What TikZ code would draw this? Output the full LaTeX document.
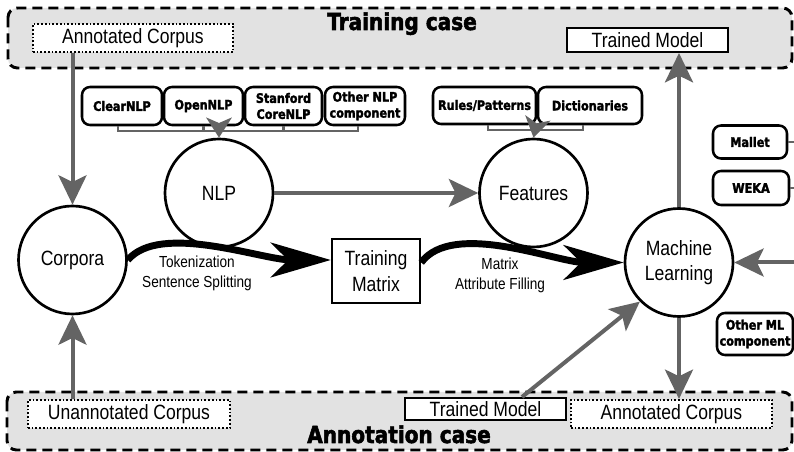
\documentclass[tikz,border=0pt]{standalone}
\usepackage{fontspec}
\setmainfont{Liberation Sans}[FakeStretch=0.85]
\newfontfamily\heavyfont{DejaVu Sans Bold}[FakeStretch=0.86, FakeBold=2.2]
\usetikzlibrary{arrows.meta,calc}

\definecolor{linkgray}{HTML}{646464}
\definecolor{panelgray}{HTML}{E2E2E2}

\tikzset{
  panel/.style={draw=black, fill=panelgray, line width=2.2pt,
    dash pattern=on 7.5pt off 4.5pt, rounded corners=7pt},
  casetitle/.style={font=\heavyfont\fontsize{17.5}{20}\selectfont, inner sep=0pt, anchor=base},
  biglabel/.style={font=\fontsize{15.5}{19}\selectfont},
  datafile/.style={biglabel, draw=black, fill=white, line width=1.6pt,
    dash pattern=on 1.3pt off 1.5pt, inner sep=0pt},
  modelfile/.style={biglabel, draw=black, fill=white, line width=1.5pt, inner sep=0pt},
  stage/.style={biglabel, circle, draw=black, fill=white, line width=2pt,
    minimum size=81pt, inner sep=0pt, align=center},
  matrixbox/.style={biglabel, draw=black, fill=white, line width=1.8pt,
    inner sep=0pt, align=center, minimum width=66pt, minimum height=48pt},
  tool/.style={draw=black, fill=white, rounded corners=6pt, line width=1.9pt,
    align=center, inner sep=0pt,
    font=\heavyfont\fontsize{9.8}{12}\selectfont},
  feed/.style={draw=linkgray, line width=3pt,
    -{Stealth[length=22pt,width=21pt,inset=5pt]}},
  shortfeed/.style={draw=linkgray, line width=3pt,
    -{Stealth[length=15pt,width=19pt,inset=4pt]}},
  flow/.style={draw=black, line width=5.2pt,
    -{Stealth[length=45pt,width=26pt,inset=13pt]}},
  tie/.style={draw=linkgray, line width=1.6pt},
  steplabel/.style={font=\fontsize{12}{15}\selectfont, align=center},
}

\begin{document}
\begin{tikzpicture}[x=0.75pt, y=-0.75pt]
\fill[white] (0,0) rectangle (794,452);
\useasboundingbox (0,0) rectangle (794,452);

% the two case panels
\draw[panel] (8,8) rectangle (792,68);
\draw[panel] (7,392) rectangle (792,450);
\node[casetitle] (traintitle) at (402,30) {Training case};
\node[casetitle] (annottitle) at (399,443) {Annotation case};

% corpus and model files
\node[datafile, minimum width=150pt, minimum height=21pt] (anncorpTop) at (133,38) {Annotated Corpus};
\node[modelfile, minimum width=120.75pt, minimum height=18pt] (trainedTop) at (647.5,40) {Trained Model};
\node[datafile, minimum width=151.5pt, minimum height=21pt] (unannot) at (129,414) {Unannotated Corpus};
\node[modelfile, minimum width=120.75pt, minimum height=16.5pt] (trainedBot) at (485.5,409) {Trained Model};
\node[datafile, minimum width=150.75pt, minimum height=21pt] (anncorpBot) at (671.5,414) {Annotated Corpus};

% processing stages
\node[stage] (corpora) at (72.5,260) {Corpora};
\node[stage] (nlp) at (219,193) {NLP};
\node[stage] (features) at (533.5,193) {Features};
\node[stage] (ml) at (679,262.5) {Machine\\Learning};
\node[matrixbox] (matrix) at (376,271) {Training\\Matrix};

% NLP components
\node[tool, minimum width=60pt, minimum height=28.5pt] (clear) at (122,106) {ClearNLP};
\node[tool, minimum width=59.25pt, minimum height=28.5pt] (open) at (203.5,106) {OpenNLP};
\node[tool, minimum width=57.75pt, minimum height=28.5pt] (stanford) at (283.5,106) {Stanford\\CoreNLP};
\node[tool, minimum width=60pt, minimum height=28.5pt] (othernlp) at (365,106) {Other NLP\\component};

% feature resources
\node[tool, minimum width=77.25pt, minimum height=27.75pt] (rules) at (484.5,105.5) {Rules/Patterns};
\node[tool, minimum width=78pt, minimum height=27.75pt] (dict) at (590,105.5) {Dictionaries};

% machine learning components
\node[tool, minimum width=55.5pt, minimum height=24.75pt] (mallet) at (750,142) {Mallet};
\node[tool, minimum width=57pt, minimum height=25.5pt] (weka) at (751,188) {WEKA};
\node[tool, minimum width=57pt, minimum height=31.5pt] (otherml) at (755,334) {Other ML\\component};

% brackets gathering the components
\draw[tie] ([xshift=-3pt]clear.south) -- ++(0,5) -| ([xshift=-5.25pt]othernlp.south);
\draw[tie] (open.south) -- ++(0,5);
\draw[tie] (stanford.south) -- ++(0,5);
\coordinate (nlpjoin) at (219,130);
\draw[shortfeed] (nlpjoin) -- (nlp.north);

\draw[tie] ([xshift=2.6pt]rules.south) -- ++(0,4.5) -| ([xshift=-5.25pt]dict.south);
\coordinate (featjoin) at (535.5,128.5);
\draw[shortfeed] (featjoin) -- (features.north);

\draw[tie] (mallet.east) -- ++(8,0);
\draw[tie] (weka.east) -- ++(8,0);
\coordinate (mlsource) at (794,262.5);
\draw[feed] (mlsource) -- (ml.east);

% data flow
\draw[feed] (corpora.north |- anncorpTop.south) -- (corpora.north);
\draw[feed] (corpora.south |- unannot.north) -- (corpora.south);
\draw[feed] (nlp.east) -- (features.west);
\draw[feed] (ml.north) -- (ml.north |- trainedTop.south);
\draw[feed] (ml.south) -- (ml.south |- anncorpBot.north);
\draw[feed] ($(trainedBot.north)+(36.5,0)$) -- (ml.225);

\draw[flow] (corpora.east) .. controls (160,222) and (262,260) .. (matrix.west |- corpora.east);
\draw[flow] (matrix.east |- ml.west) .. controls (453,220) and (557,262.5) .. (ml.west);

\node[steplabel] (toklabel) at (197,273) {Tokenization\\Sentence Splitting};
\node[steplabel] (filllabel) at (500,275) {Matrix\\Attribute Filling};
\end{tikzpicture}
\end{document}
